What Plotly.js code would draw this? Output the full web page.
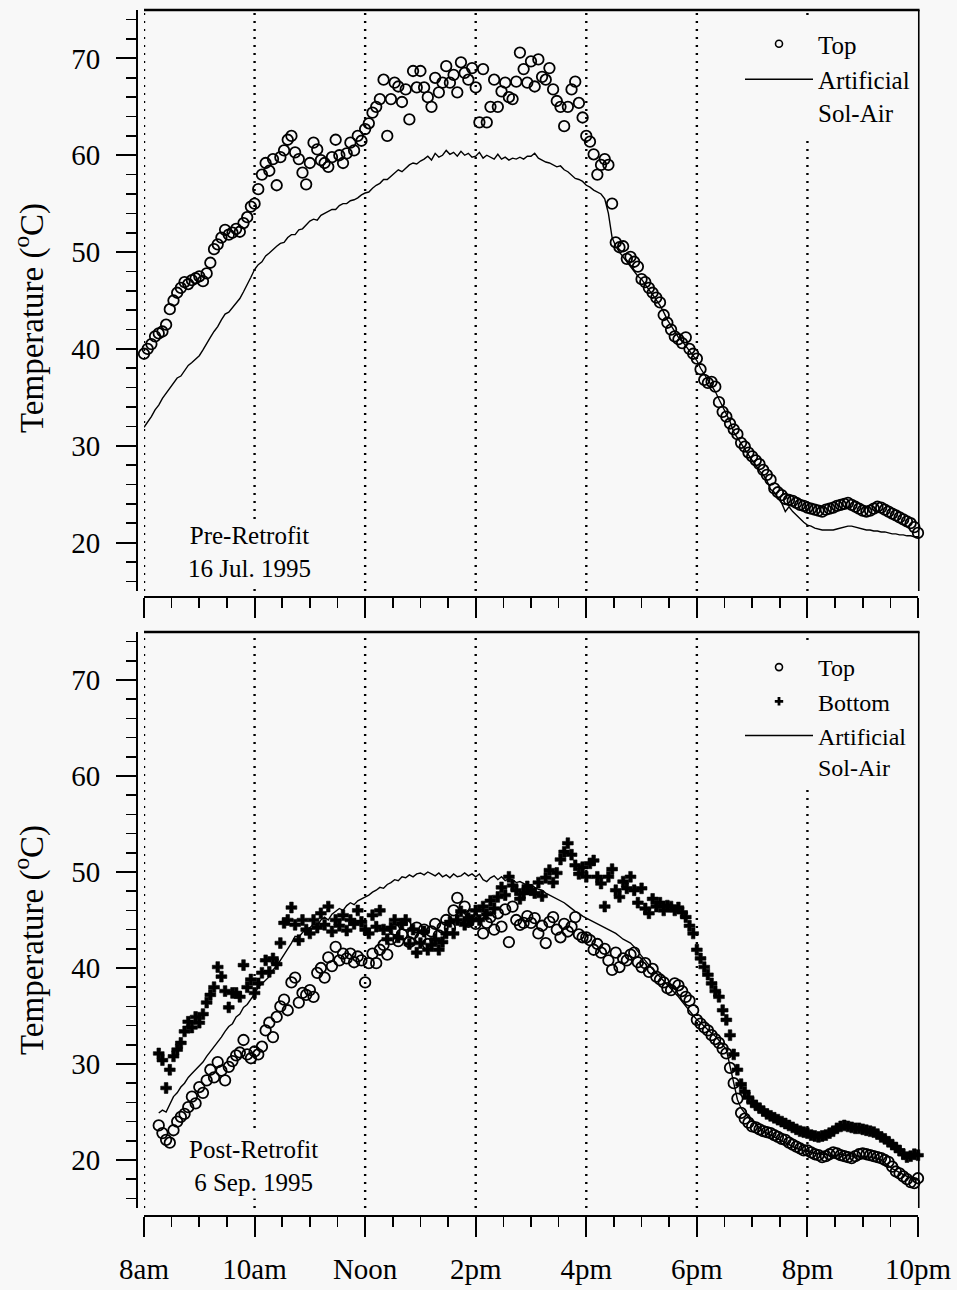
<!DOCTYPE html>
<html><head><meta charset="utf-8">
<script src="https://cdn.plot.ly/plotly-3.0.1.min.js"></script>
<style>html,body{margin:0;padding:0;background:#f8f8f8}</style>
</head><body><div id="chart" style="width:957px;height:1290px"></div>
<script>
// sampling: one reading every 4 minutes
const STEP_MIN = 4;
const PRE_START = 8.0;            // 8:00 am
const POST_START = 8 + 16/60;     // 8:16 am

const tickHours = [8, 10, 12, 14, 16, 18, 20, 22];
const tickText = ["8am", "10am", "Noon", "2pm", "4pm", "6pm", "8pm", "10pm"];

// Pre-Retrofit, 16 Jul. 1995
const preTop = [
 39.5,40.0,40.5,41.3,41.6,41.8,42.5,44.1,45.0,45.8,46.3,46.9,46.7,47.1,47.3,
 47.5,47.0,47.8,48.9,50.3,50.8,51.5,52.3,51.8,52.0,52.4,52.1,53.0,53.6,54.7,
 55.0,56.5,58.0,59.2,58.4,59.6,56.9,59.8,60.5,61.6,62.0,60.3,59.6,58.2,57.0,
 59.2,61.3,60.6,59.5,59.2,58.8,59.8,61.6,60.0,59.2,60.2,61.3,60.5,62.0,61.5,
 62.7,63.3,64.4,65.0,65.8,67.8,62.0,65.8,67.5,67.1,65.5,66.8,63.7,68.7,67.0,
 68.7,67.0,66.0,65.0,68.0,66.5,67.5,69.2,67.5,68.3,66.5,69.6,68.5,67.8,69.0,
 67.0,63.4,68.9,63.4,65.0,67.8,65.0,66.6,67.5,66.0,65.8,67.6,70.6,68.9,67.5,
 69.7,67.1,69.9,68.1,67.8,69.0,66.8,65.6,65.0,63.0,65.0,66.8,67.6,65.4,63.9,
 62.0,61.4,60.1,58.0,59.0,59.6,59.0,55.0,51.0,50.5,50.6,49.3,49.5,49.0,48.5,
 47.2,46.9,46.3,45.8,45.3,44.8,43.5,42.7,42.0,41.3,41.0,40.6,41.2,40.0,39.5,
 39.0,37.9,36.8,36.5,36.6,36.1,34.5,33.5,33.0,32.3,31.7,31.2,30.3,29.9,29.3,
 28.9,28.5,28.1,27.5,27.0,26.5,25.6,25.2,24.9,24.5,24.4,24.3,24.1,23.9,23.8,
 23.6,23.5,23.4,23.3,23.2,23.4,23.5,23.6,23.8,23.9,24.0,24.1,23.9,23.7,23.5,
 23.3,23.2,23.3,23.5,23.7,23.6,23.4,23.2,23.0,22.8,22.6,22.4,22.2,22.0,21.6,
 21.0
];
const preSolAir = [
 31.9,32.4,33.0,33.7,34.2,34.9,35.4,36.0,36.5,37.0,37.2,37.8,38.3,38.6,39.0,
 39.3,39.9,40.6,41.2,41.8,42.3,43.0,43.6,43.8,44.3,44.8,45.2,45.9,46.6,47.4,
 48.2,48.7,49.0,49.6,49.9,50.3,50.6,50.9,51.0,51.5,51.8,51.8,52.3,52.4,52.8,
 53.2,53.4,53.3,53.8,54.0,54.2,54.4,54.4,54.8,55.0,55.0,55.3,55.4,55.6,55.9,
 56.1,56.2,56.6,56.9,57.1,57.5,57.5,57.8,58.2,58.5,58.3,58.7,59.0,59.2,59.1,
 59.4,59.6,59.9,59.5,60.2,59.8,60.0,60.5,60.1,60.3,59.9,60.4,60.0,60.2,59.8,
 59.9,60.3,59.7,60.0,59.8,59.6,60.1,59.6,59.8,59.5,59.7,59.6,59.8,59.6,59.9,
 59.9,60.2,59.7,59.5,59.3,59.2,59.0,58.8,58.9,58.5,58.3,58.0,57.6,57.5,57.3,
 56.9,56.7,56.4,56.2,56.0,55.5,54.0,51.5,50.6,50.0,49.5,49.0,48.4,48.0,47.5,
 47.2,46.6,46.1,45.6,45.1,44.5,43.8,43.0,42.4,41.8,41.2,40.8,40.3,39.8,39.2,
 38.8,38.0,37.4,36.8,36.3,35.6,34.8,34.0,33.2,32.5,31.4,30.8,30.2,29.6,29.0,
 28.5,28.0,27.4,27.0,26.4,25.5,25.2,24.6,24.1,23.2,23.7,23.2,22.8,22.4,22.1,
 21.8,21.7,21.5,21.4,21.3,21.3,21.3,21.3,21.4,21.5,21.6,21.7,21.7,21.6,21.5,
 21.4,21.3,21.3,21.2,21.2,21.1,21.1,21.0,20.9,20.9,20.8,20.8,20.7,20.7,20.6,
 20.6
];

// Post-Retrofit, 6 Sep. 1995
const postTop = [
 23.6,22.8,22.1,21.8,23.1,24.0,24.5,24.8,25.5,26.6,25.9,
 27.6,27.0,28.3,29.4,28.6,30.2,29.3,28.3,29.7,30.3,30.9,31.2,32.5,31.0,30.6,
 31.3,31.0,31.8,33.5,34.3,32.8,34.9,36.0,36.7,35.6,38.5,39.0,36.4,37.4,37.2,
 37.7,37.0,39.5,40.0,39.0,41.1,40.2,42.2,40.8,41.5,41.0,41.5,40.6,41.2,40.8,
 38.5,40.5,41.5,40.5,41.9,42.4,41.4,43.0,44.0,42.8,43.5,44.5,42.7,43.6,44.2,
 43.1,44.0,42.5,43.8,44.6,43.4,44.2,45.0,44.2,46.0,47.3,45.3,46.4,44.8,45.5,
 44.6,45.6,43.6,44.7,45.3,44.0,45.7,44.3,46.1,42.7,46.4,45.0,44.5,44.7,45.4,
 44.7,45.2,43.6,44.4,42.6,44.8,45.3,44.0,43.2,44.6,43.8,44.3,45.3,43.5,43.2,
 43.2,42.9,41.9,42.5,41.6,42.0,40.8,39.8,41.6,40.1,41.0,40.8,41.4,41.6,40.6,
 40.1,40.5,39.6,39.9,39.1,38.8,38.5,37.9,37.7,38.4,38.2,37.6,37.0,36.6,35.6,
 34.6,34.2,33.8,33.5,33.0,32.6,32.2,31.6,31.1,29.6,28.0,26.4,24.9,24.3,23.9,
 23.5,23.4,23.2,23.0,22.9,22.8,22.6,22.4,22.2,22.1,21.8,21.6,21.4,21.2,21.0,
 21.0,20.8,20.6,20.5,20.3,20.4,20.6,20.8,20.7,20.5,20.4,20.3,20.2,20.4,20.6,
 20.7,20.6,20.5,20.4,20.3,20.2,20.0,19.8,19.3,18.8,18.6,18.3,18.0,17.7,17.6,
 18.1
];
const postBottom = [
 31.1,30.4,27.5,29.4,30.8,31.5,32.2,33.4,34.4,33.8,34.9,
 34.3,35.2,36.4,37.2,38.0,40.1,39.1,37.6,35.9,37.4,37.4,37.0,40.3,38.0,38.8,
 37.4,38.4,39.5,40.8,39.6,41.0,40.4,42.6,44.7,45.0,46.3,44.5,42.9,45.0,44.0,
 43.6,45.0,44.2,45.7,44.5,46.4,43.8,45.0,44.4,45.5,43.9,45.0,44.6,46.0,44.8,
 44.0,43.6,45.5,44.3,46.0,44.0,43.0,44.2,45.0,43.2,44.6,45.0,42.5,44.0,41.6,
 42.6,43.8,41.9,42.4,43.0,41.9,42.7,43.6,44.8,43.6,45.0,45.9,44.5,45.2,45.0,
 46.0,45.0,46.4,45.6,47.0,46.2,47.4,48.4,47.6,49.5,48.6,48.1,47.2,47.8,48.5,
 48.1,47.8,48.9,47.5,49.4,50.2,48.9,49.9,51.3,52.1,53.0,51.8,50.7,49.8,50.5,
 49.5,50.9,51.2,49.5,48.8,46.4,49.5,50.3,48.1,47.4,49.0,48.3,49.5,48.1,46.8,
 48.3,46.2,45.7,47.2,46.4,46.8,46.0,46.5,46.4,46.0,46.3,45.8,45.3,44.4,43.6,
 41.9,41.0,40.1,39.3,38.4,37.6,37.0,35.6,34.6,33.0,31.0,29.4,27.9,27.1,26.5,
 26.0,25.7,25.4,25.1,24.8,24.6,24.4,24.2,24.0,23.8,23.6,23.4,23.2,23.0,22.9,
 22.8,22.6,22.5,22.4,22.5,22.6,22.8,23.0,23.3,23.5,23.6,23.5,23.4,23.3,23.3,
 23.2,23.1,23.0,22.9,22.7,22.4,22.2,21.9,21.6,21.3,21.0,20.6,20.3,20.4,20.6,
 20.5
];
const postSolAir = [
 24.9,25.2,25.0,25.8,26.6,27.0,27.6,28.0,28.6,29.0,29.4,
 29.8,30.2,30.8,31.3,31.8,32.2,32.8,33.4,33.9,34.2,34.9,35.2,35.9,36.2,36.7,
 37.3,38.0,38.4,38.7,39.1,39.8,40.2,40.8,41.4,41.9,42.6,43.3,43.2,43.7,44.0,
 44.2,44.6,44.4,45.0,45.3,45.0,45.6,45.9,46.2,46.0,46.5,46.8,46.6,47.0,47.2,
 47.4,47.6,47.9,48.1,48.4,48.3,48.7,48.9,49.2,49.1,49.5,49.4,49.7,49.5,49.8,
 49.9,49.7,50.0,49.8,49.6,49.9,49.5,49.7,49.4,49.8,49.5,49.6,49.9,49.6,49.8,
 49.5,49.8,49.2,49.0,49.4,49.6,49.2,49.5,49.1,49.3,49.2,48.9,49.0,48.8,48.6,
 48.7,48.4,48.2,48.1,47.8,47.6,47.4,47.2,47.0,46.8,46.5,46.2,45.9,45.7,45.4,
 45.2,45.0,44.8,44.6,44.4,44.2,44.0,43.8,43.6,43.3,43.0,42.8,42.6,42.2,41.7,
 41.2,40.8,40.3,39.9,39.5,39.0,38.6,38.2,37.8,37.5,37.0,36.5,36.0,35.5,35.0,
 34.6,34.3,33.9,33.5,33.2,32.9,32.5,32.0,31.5,29.7,27.8,26.3,25.4,24.9,24.4,
 24.1,23.7,23.4,23.0,22.8,22.6,22.4,22.2,22.0,21.8,21.6,21.4,21.2,21.1,21.0,
 20.9,20.8,20.7,20.7,20.6,20.6,20.5,20.5,20.5,20.6,20.5,20.5,20.4,20.4,20.4,
 20.4,20.3,20.3,20.3,20.2,20.0,19.7,19.4,19.1,18.9,18.7,18.5,18.3,18.1,18.0,
 17.9
];

function times(start, n) {
  const t = [];
  for (let i = 0; i < n; i++) t.push(start + i * STEP_MIN / 60);
  return t;
}

const W = 957, H = 1290;
const px = v => v / W;
const py = v => 1 - v / H;
const BG = '#f8f8f8';
const SERIF = 'Liberation Serif, Times New Roman, serif';

const circleMarker = {symbol: 'circle-open', size: 10.5, color: 'black', line: {width: 1.8, color: 'black'}};
const crossMarker = {symbol: 'cross', size: 9, color: 'black', line: {width: 0.6, color: 'black'}};
const solLine = {color: 'black', width: 1.4};

const traces = [
  {x: times(PRE_START, preSolAir.length), y: preSolAir, mode: 'lines', line: solLine,
   xaxis: 'x', yaxis: 'y', showlegend: false, cliponaxis: false},
  {x: times(PRE_START, preTop.length), y: preTop, mode: 'markers', marker: circleMarker,
   xaxis: 'x', yaxis: 'y', showlegend: false, cliponaxis: false},
  // legend entries (top panel)
  {x: [null], y: [null], mode: 'markers', name: 'Top', xaxis: 'x', yaxis: 'y', legend: 'legend',
   marker: {symbol: 'circle-open', size: 7, color: 'black', line: {width: 1.6, color: 'black'}}},
  {x: [null], y: [null], mode: 'lines', name: 'Artificial<br>Sol-Air', xaxis: 'x', yaxis: 'y', legend: 'legend',
   line: {color: 'black', width: 1.6}},

  {x: times(POST_START, postSolAir.length), y: postSolAir, mode: 'lines', line: solLine,
   xaxis: 'x2', yaxis: 'y2', showlegend: false, cliponaxis: false},
  {x: times(POST_START, postBottom.length), y: postBottom, mode: 'markers', marker: crossMarker,
   xaxis: 'x2', yaxis: 'y2', showlegend: false, cliponaxis: false},
  {x: times(POST_START, postTop.length), y: postTop, mode: 'markers', marker: circleMarker,
   xaxis: 'x2', yaxis: 'y2', showlegend: false, cliponaxis: false},
  // legend entries (bottom panel)
  {x: [null], y: [null], mode: 'markers', name: 'Top', xaxis: 'x2', yaxis: 'y2', legend: 'legend2',
   marker: {symbol: 'circle-open', size: 7, color: 'black', line: {width: 1.6, color: 'black'}}},
  {x: [null], y: [null], mode: 'markers', name: 'Bottom', xaxis: 'x2', yaxis: 'y2', legend: 'legend2',
   marker: {symbol: 'cross', size: 7, color: 'black'}},
  {x: [null], y: [null], mode: 'lines', name: 'Artificial<br>Sol-Air', xaxis: 'x2', yaxis: 'y2', legend: 'legend2',
   line: {color: 'black', width: 1.6}}
];

function xAxis(posPx, labels) {
  return {
    domain: [px(144), px(918)], range: [8, 22], anchor: 'free', position: py(posPx),
    showline: true, linecolor: 'black', linewidth: 2,
    ticks: 'outside', ticklen: 20, tickwidth: 2, tickcolor: 'black',
    tickmode: 'array', tickvals: tickHours, ticktext: tickText,
    showticklabels: labels, ticklabelstandoff: 7,
    tickfont: {family: SERIF, size: 29, color: 'black'},
    minor: {tickmode: 'linear', tick0: 8, dtick: 0.5, ticks: 'outside', ticklen: 10, tickwidth: 1.6, tickcolor: 'black'},
    showgrid: false, zeroline: false, fixedrange: true
  };
}
function yAxis(topPx, botPx) {
  return {
    domain: [py(botPx), py(topPx)], range: [15, 75], anchor: 'free', position: px(137),
    showline: true, linecolor: 'black', linewidth: 2,
    ticks: 'outside', ticklen: 20, tickwidth: 2, tickcolor: 'black',
    tick0: 0, dtick: 10, ticklabelstandoff: 10,
    tickfont: {family: SERIF, size: 29, color: 'black'},
    minor: {tick0: 0, dtick: 2, ticks: 'outside', ticklen: 10, tickwidth: 1.6, tickcolor: 'black'},
    showgrid: false, zeroline: false, fixedrange: true
  };
}

const shapes = [];
[['x', 'y'], ['x2', 'y2']].forEach(([xa, ya]) => {
  tickHours.slice(0, -1).forEach(h => {
    shapes.push({type: 'line', layer: 'below', xref: xa, yref: ya + ' domain', x0: h, x1: h, y0: 0, y1: 1,
      line: {color: 'black', width: 2.4, dash: '2px,6px'}});
  });
  shapes.push({type: 'line', xref: xa + ' domain', yref: ya + ' domain', x0: 0, x1: 1.002, y0: 1, y1: 1,
    line: {color: 'black', width: 2.5}});
  shapes.push({type: 'line', xref: xa + ' domain', yref: ya + ' domain', x0: 1.001, x1: 1.001, y0: 0, y1: 1,
    line: {color: 'black', width: 1.6}});
});

const titleFont = {family: SERIF, size: 33, color: 'black'};
const noteFont = {family: SERIF, size: 25, color: 'black'};
const annotations = [
  {text: 'Temperature (<sup>o</sup>C)', xref: 'paper', yref: 'paper', x: px(29), y: py(318),
   textangle: -90, showarrow: false, font: titleFont, xanchor: 'center', yanchor: 'middle'},
  {text: 'Temperature (<sup>o</sup>C)', xref: 'paper', yref: 'paper', x: px(29), y: py(940),
   textangle: -90, showarrow: false, font: titleFont, xanchor: 'center', yanchor: 'middle'},
  {text: 'Pre-Retrofit<br>16 Jul. 1995', xref: 'paper', yref: 'paper', x: px(249), y: py(552),
   showarrow: false, font: noteFont, align: 'center', xanchor: 'center', yanchor: 'middle', bgcolor: BG, borderpad: 2},
  {text: 'Post-Retrofit<br>6 Sep. 1995', xref: 'paper', yref: 'paper', x: px(254), y: py(1166),
   showarrow: false, font: noteFont, align: 'center', xanchor: 'center', yanchor: 'middle', bgcolor: BG, borderpad: 2}
];

const legendBase = {
  xanchor: 'left', yanchor: 'top', bgcolor: BG, borderwidth: 0,
  itemwidth: 68, valign: 'top',
  tracegroupgap: 0, traceorder: 'normal', itemclick: false, itemdoubleclick: false
};

const layout = {
  width: W, height: H, margin: {l: 0, r: 0, t: 0, b: 0},
  paper_bgcolor: BG, plot_bgcolor: BG, showlegend: true,
  xaxis: xAxis(597, false), yaxis: yAxis(10, 591),
  xaxis2: xAxis(1216, true), yaxis2: yAxis(632, 1208),
  legend: Object.assign({x: px(740), y: py(21), font: {family: SERIF, size: 25, color: 'black'}}, legendBase),
  legend2: Object.assign({x: px(740), y: py(645), font: {family: SERIF, size: 24, color: 'black'}}, legendBase),
  shapes: shapes, annotations: annotations
};

Plotly.newPlot('chart', traces, layout, {displayModeBar: false, staticPlot: true});
</script>
</body></html>
